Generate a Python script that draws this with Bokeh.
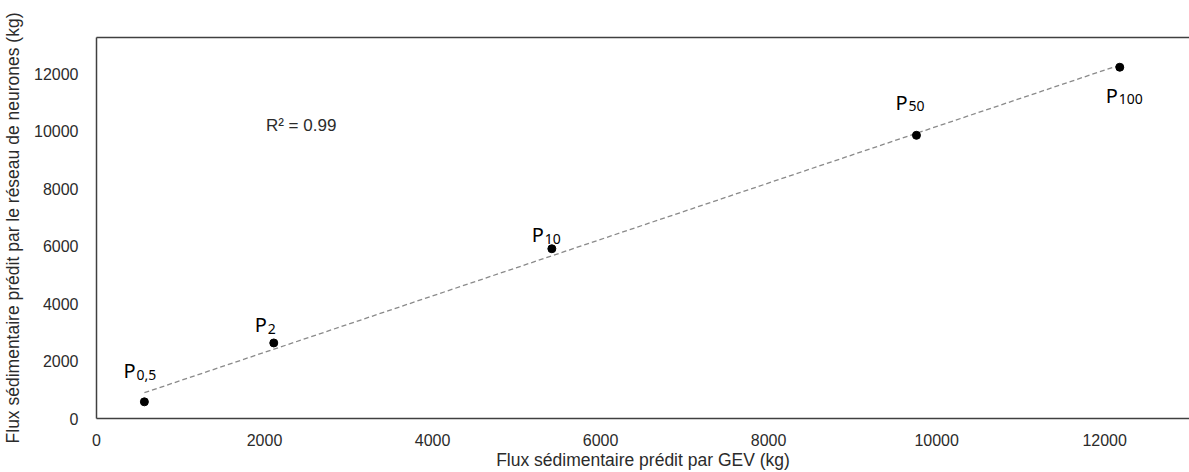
import numpy as np
from bokeh.plotting import figure
from bokeh.models import ColumnDataSource, FixedTicker, LinearAxis, Range1d, Label
from bokeh.core.properties import value
from bokeh.embed import file_html
from bokeh.resources import INLINE

# ---- data ----
label_main = ["P", "P", "P", "P", "P"]
label_sub = ["0,5", "2", "10", "50", "100"]
gev = [570, 2110, 5420, 9760, 12180]
nn = [580, 2630, 5910, 9860, 12230]
x_ticks = [0, 2000, 4000, 6000, 8000, 10000, 12000]
y_ticks = [0, 2000, 4000, 6000, 8000, 10000, 12000]
r2_text = "R² = 0.99"
x_title = "Flux sédimentaire prédit par GEV (kg)"
y_title = "Flux sédimentaire prédit par le réseau de neurones (kg)"

# ---- label placement (screen px, relative to each point) ----
lab_dx = [-21, -19, -20, -21, -14]
lab_dy = [-31, -18, -14, -33, 28]

TXT = "#2b2b2b"
AX = "#404040"

p = figure(width=1189, height=472, output_backend="svg", toolbar_location=None,
           x_range=Range1d(0, 13010), y_range=Range1d(0, 13265),
           min_border_left=91, min_border_right=0, min_border_top=37,
           min_border_bottom=47)
p.outline_line_color = None
p.xgrid.visible = False
p.ygrid.visible = False
p.background_fill_color = "white"
p.border_fill_color = "white"

for ax, ticks in ((p.xaxis[0], x_ticks), (p.yaxis[0], y_ticks)):
    ax.ticker = FixedTicker(ticks=ticks)
    ax.major_tick_line_color = None
    ax.minor_tick_line_color = None
    ax.axis_line_color = AX
    ax.axis_line_width = 1.5
    ax.major_label_text_font = "Liberation Sans"
    ax.major_label_text_font_size = "16px"
    ax.major_label_text_color = TXT
    ax.axis_label_text_font = "Liberation Sans"
    ax.axis_label_text_font_size = "17.5px"
    ax.axis_label_text_font_style = "normal"
    ax.axis_label_text_color = TXT

p.xaxis.axis_label = x_title
p.yaxis.axis_label = y_title
p.xaxis.major_label_standoff = 9
p.xaxis.axis_label_standoff = 1
p.yaxis.major_label_standoff = 12
p.yaxis.axis_label_standoff = 8

top = LinearAxis(ticker=FixedTicker(ticks=[]), axis_line_color=AX, axis_line_width=1.5,
                 major_tick_line_color=None, minor_tick_line_color=None,
                 major_label_text_font_size="0px", major_label_standoff=0)
p.add_layout(top, "above")

# regression line
coef = np.polyfit(gev, nn, 1)
xs = [min(gev), max(gev)]
ys = [coef[0] * v + coef[1] for v in xs]
p.line(xs, ys, line_color="#8a8a8a", line_width=1.3, line_dash="5 3")

src = ColumnDataSource(dict(x=gev, y=nn, m=label_main, s=label_sub,
                            dx=lab_dx, dy=lab_dy,
                            sdx=[d + 13 for d in lab_dx], sdy=[d + 4 for d in lab_dy]))
p.scatter("x", "y", source=src, size=8, color="black")
p.text("x", "y", text="m", source=src, x_offset="dx", y_offset="dy",
       text_font=value("Noto Sans"), text_font_size="20px", text_color="black",
       text_align="left", text_baseline="alphabetic")
p.text("x", "y", text="s", source=src, x_offset="sdx", y_offset="sdy",
       text_font=value("Noto Sans"), text_font_size="14px", text_color="black",
       text_align="left", text_baseline="alphabetic")

p.add_layout(Label(x=2017, y=10190, text=r2_text, text_font="Liberation Sans",
                   text_font_size="17px", text_color=TXT, text_baseline="middle",
                   text_align="left"))

open("out.html", "w").write(file_html(p, INLINE))
